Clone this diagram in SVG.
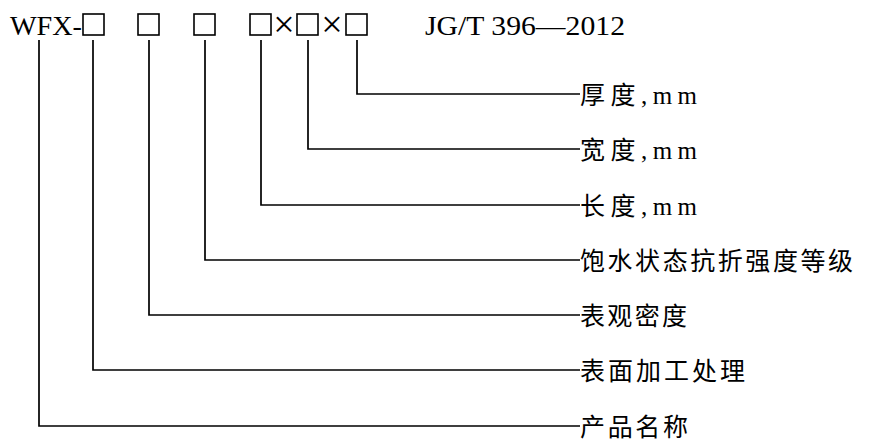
<svg xmlns="http://www.w3.org/2000/svg" width="870" height="442" viewBox="0 0 870 442">
<style>
.lat{font-family:"Liberation Serif","Noto Sans CJK SC",serif;font-size:28px;fill:#000}
.lbl{font-family:"Liberation Serif","Noto Sans CJK SC",serif;font-size:25px;fill:#000}
.x{font-family:"Liberation Serif",serif;font-size:38px;fill:#000}
.box{fill:none;stroke:#000;stroke-width:1.6}
.ln{fill:none;stroke:#000;stroke-width:1.7}
</style>
<rect width="870" height="442" fill="#fff"/>
<g id="code">
<text class="lat" x="10" y="35" textLength="72" lengthAdjust="spacingAndGlyphs">WFX-</text>
<rect class="box" x="83" y="14" width="21" height="21"/>
<rect class="box" x="138" y="14" width="21" height="21"/>
<rect class="box" x="194" y="14" width="21" height="21"/>
<rect class="box" x="250" y="14" width="21" height="21"/>
<text class="x" x="284" y="37" text-anchor="middle">×</text>
<rect class="box" x="297" y="14" width="21" height="21"/>
<text class="x" x="332" y="37" text-anchor="middle">×</text>
<rect class="box" x="346" y="14" width="21" height="21"/>
<text class="lat" x="425" y="35" textLength="200" lengthAdjust="spacingAndGlyphs">JG/T 396—2012</text>
</g>
<g id="connectors">
<polyline class="ln" points="357,40 357,94 580,94"/>
<polyline class="ln" points="308,40 308,149 580,149"/>
<polyline class="ln" points="261,40 261,205 580,205"/>
<polyline class="ln" points="205,40 205,260 580,260"/>
<polyline class="ln" points="149,40 149,315 580,315"/>
<polyline class="ln" points="93,40 93,370 580,370"/>
<polyline class="ln" points="39,40 39,426 580,426"/>
</g>
<g id="thickness"><text class="lbl" x="580" y="104" textLength="117" lengthAdjust="spacing">厚度,mm</text></g>
<g id="width"><text class="lbl" x="580" y="159" textLength="117" lengthAdjust="spacing">宽度,mm</text></g>
<g id="length"><text class="lbl" x="580" y="215" textLength="117" lengthAdjust="spacing">长度,mm</text></g>
<g id="strength"><text class="lbl" x="580" y="270" textLength="273" lengthAdjust="spacing">饱水状态抗折强度等级</text></g>
<g id="density"><text class="lbl" x="580" y="325" textLength="107" lengthAdjust="spacing">表观密度</text></g>
<g id="surface"><text class="lbl" x="580" y="380" textLength="165" lengthAdjust="spacing">表面加工处理</text></g>
<g id="product"><text class="lbl" x="580" y="436" textLength="108" lengthAdjust="spacing">产品名称</text></g>
</svg>
